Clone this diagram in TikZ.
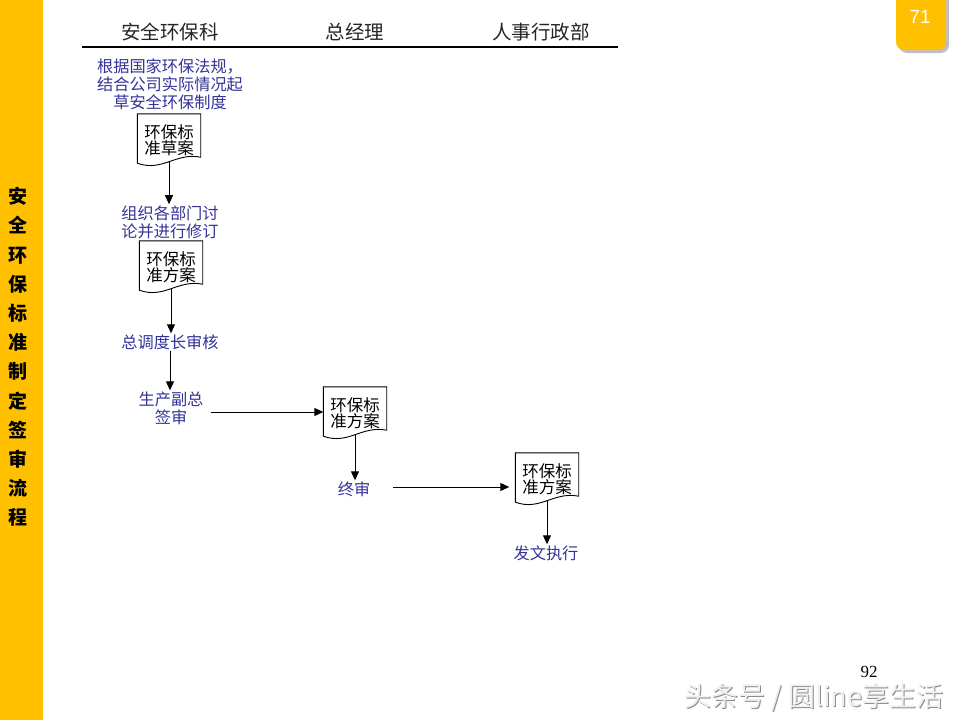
\documentclass[tikz,border=0pt]{standalone}
\usepackage{fontspec}
\setmainfont{Liberation Serif}
\newfontfamily\cjk{Noto Sans CJK SC}
\newfontfamily\numsans{Liberation Sans}
\usetikzlibrary{calc,arrows.meta}
\definecolor{barcol}{HTML}{FFC000}
\definecolor{navy}{RGB}{51,51,153}
\tikzset{
  lbl/.style={text=navy, font=\cjk\fontsize{16.2}{18}\selectfont, align=center, inner sep=1pt},
  docbox/.style={minimum width=63pt, minimum height=52pt, inner sep=0pt, align=center,
    font=\cjk\fontsize{16.5}{16.5}\selectfont, text=black},
  hdr/.style={font=\cjk\fontsize{19.5}{21}\selectfont, text=black!85},
  arr/.style={-{Triangle[length=9pt,width=8pt]}, line width=1pt, black},
  docline/.style={line width=0.9pt, black}
}
\newcommand\docoutline[1]{%
  \draw[docline] (#1.north west) -- (#1.north east) -- ($(#1.south east)+(0,-9)$)
    .. controls ($(#1.south east)+(-25,-14)$) and ($(#1.south west)+(25,6)$) ..
    ($(#1.south west)+(0,-3)$) -- cycle;}
\begin{document}
\begin{tikzpicture}[x=1pt,y=-1pt]
\useasboundingbox (0,0) rectangle (960,720);
\fill[white] (0,0) rectangle (960,720);
% left bar
\fill[barcol] (0,0) rectangle (43,720);
\node[font=\cjk\bfseries\fontsize{19}{29.2}\selectfont, align=center, inner sep=0pt] (title) at (18,357)
  {安\\全\\环\\保\\标\\准\\制\\定\\签\\审\\流\\程};
% page tab
\fill[black!25, rounded corners=8pt] (899,-10) rectangle (949,53);
\fill[barcol, rounded corners=8pt] (896,-10) rectangle (946,50);
\node[font=\numsans\fontsize{19}{20}\selectfont, text=white] (tabnum) at (920,17) {71};
% header
\node[hdr] (h1) at (170,32) {安全环保科};
\node[hdr] (h2) at (355,32) {总经理};
\node[hdr] (h3) at (541,32) {人事行政部};
\draw[line width=1.1pt] (82,47) -- (618,47);
% flow
\node[lbl] (t1) at (170,84) {根据国家环保法规，\\结合公司实际情况起\\草安全环保制度};
\node[docbox] (d1) at (169,140) {环保标\\准草案};
\docoutline{d1}
\node[lbl] (t2) at (170,222) {组织各部门讨\\论并进行修订};
\node[docbox] (d2) at (171,267) {环保标\\准方案};
\docoutline{d2}
\node[lbl] (t3) at (170,342) {总调度长审核};
\node[lbl] (t4) at (171,408) {生产副总\\签审};
\node[docbox] (d3) at (355,413) {环保标\\准方案};
\docoutline{d3}
\node[lbl] (t5) at (354,489) {终审};
\node[docbox] (d4) at (547,479) {环保标\\准方案};
\docoutline{d4}
\node[lbl] (t6) at (546,553) {发文执行};
% connectors
\draw[arr] ($(d1.south)+(0,-5)$) -- (d1.south |- t2.north);
\draw[arr] ($(d2.south)+(0,-5)$) -- (d2.south |- t3.north);
\draw[arr] (t3.south) -- (t3.south |- t4.north);
\draw[arr] ($(d3.west -| t4.east)+(6,-1)$) -- ($(d3.west)+(0,-1)$);
\draw[arr] ($(d3.south)+(0,-5)$) -- (d3.south |- t5.north);
\draw[arr] ($(t5.east)+(22,-2)$) -- ($(t5.east -| d4.west)+(-6,-2)$);
\draw[arr] ($(d4.south)+(0,-5)$) -- (d4.south |- t6.north);
% page number and watermark
\node[font=\fontsize{17}{18}\selectfont] (pg) at (869,672) {92};
\node[font=\cjk\fontsize{27}{28}\selectfont, text=black!45] (wm0) at (815,698) {头条号 / 圆line享生活};
\node[font=\cjk\fontsize{27}{28}\selectfont, text=black!6] (wm) at (814,697) {头条号 / 圆line享生活};
\end{tikzpicture}
\end{document}
